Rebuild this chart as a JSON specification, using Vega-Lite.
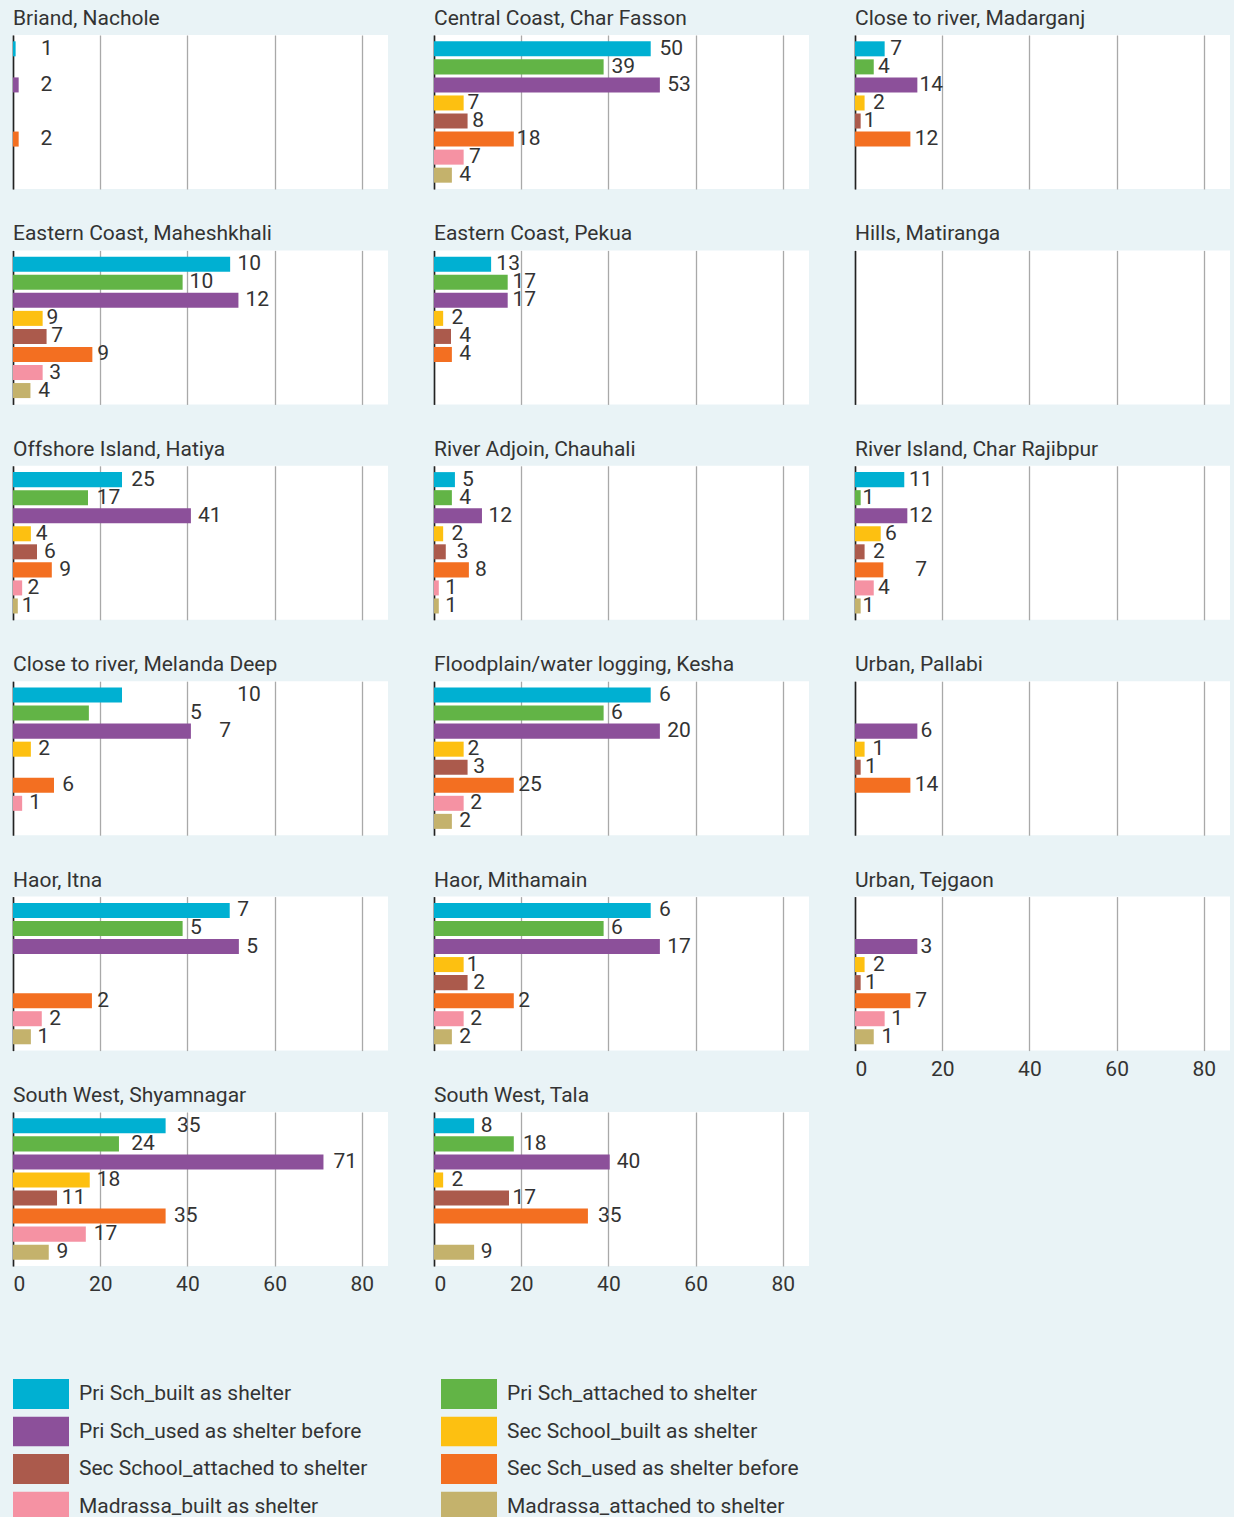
{
  "$schema": "https://vega.github.io/schema/vega-lite/v6.json",
  "background": "#e9f3f6",
  "padding": {"left": 13, "top": 8, "right": 4, "bottom": 0},
  "data": {"values": [
    {"region": "Briand, Nachole", "cat": "Pri Sch_built as shelter", "v": 0.6, "t": "1", "p": 6.4},
    {"region": "Briand, Nachole", "cat": "Pri Sch_used as shelter before", "v": 1.3, "t": "2", "p": 6.3},
    {"region": "Briand, Nachole", "cat": "Sec Sch_used as shelter before", "v": 1.3, "t": "2", "p": 6.3},

    {"region": "Central Coast, Char Fasson", "cat": "Pri Sch_built as shelter", "v": 49.7, "t": "50", "p": 51.7},
    {"region": "Central Coast, Char Fasson", "cat": "Pri Sch_attached to shelter", "v": 38.9, "t": "39", "p": 40.7},
    {"region": "Central Coast, Char Fasson", "cat": "Pri Sch_used as shelter before", "v": 51.8, "t": "53", "p": 53.5},
    {"region": "Central Coast, Char Fasson", "cat": "Sec School_built as shelter", "v": 6.8, "t": "7", "p": 7.7},
    {"region": "Central Coast, Char Fasson", "cat": "Sec School_attached to shelter", "v": 7.7, "t": "8", "p": 8.8},
    {"region": "Central Coast, Char Fasson", "cat": "Sec Sch_used as shelter before", "v": 18.3, "t": "18", "p": 19.0},
    {"region": "Central Coast, Char Fasson", "cat": "Madrassa_built as shelter", "v": 6.8, "t": "7", "p": 8.0},
    {"region": "Central Coast, Char Fasson", "cat": "Madrassa_attached to shelter", "v": 4.1, "t": "4", "p": 5.8},

    {"region": "Close to river, Madarganj", "cat": "Pri Sch_built as shelter", "v": 6.8, "t": "7", "p": 8.1},
    {"region": "Close to river, Madarganj", "cat": "Pri Sch_attached to shelter", "v": 4.3, "t": "4", "p": 5.3},
    {"region": "Close to river, Madarganj", "cat": "Pri Sch_used as shelter before", "v": 14.3, "t": "14", "p": 14.8},
    {"region": "Close to river, Madarganj", "cat": "Sec School_built as shelter", "v": 2.2, "t": "2", "p": 4.1},
    {"region": "Close to river, Madarganj", "cat": "Sec School_attached to shelter", "v": 1.3, "t": "1", "p": 2.0},
    {"region": "Close to river, Madarganj", "cat": "Sec Sch_used as shelter before", "v": 12.7, "t": "12", "p": 13.7},

    {"region": "Eastern Coast, Maheshkhali", "cat": "Pri Sch_built as shelter", "v": 49.8, "t": "10", "p": 51.5},
    {"region": "Eastern Coast, Maheshkhali", "cat": "Pri Sch_attached to shelter", "v": 38.9, "t": "10", "p": 40.5},
    {"region": "Eastern Coast, Maheshkhali", "cat": "Pri Sch_used as shelter before", "v": 51.7, "t": "12", "p": 53.3},
    {"region": "Eastern Coast, Maheshkhali", "cat": "Sec School_built as shelter", "v": 6.8, "t": "9", "p": 7.7},
    {"region": "Eastern Coast, Maheshkhali", "cat": "Sec School_attached to shelter", "v": 7.7, "t": "7", "p": 8.8},
    {"region": "Eastern Coast, Maheshkhali", "cat": "Sec Sch_used as shelter before", "v": 18.2, "t": "9", "p": 19.3},
    {"region": "Eastern Coast, Maheshkhali", "cat": "Madrassa_built as shelter", "v": 6.8, "t": "3", "p": 8.3},
    {"region": "Eastern Coast, Maheshkhali", "cat": "Madrassa_attached to shelter", "v": 4.0, "t": "4", "p": 5.8},

    {"region": "Eastern Coast, Pekua", "cat": "Pri Sch_built as shelter", "v": 13.1, "t": "13", "p": 14.3},
    {"region": "Eastern Coast, Pekua", "cat": "Pri Sch_attached to shelter", "v": 16.9, "t": "17", "p": 18.0},
    {"region": "Eastern Coast, Pekua", "cat": "Pri Sch_used as shelter before", "v": 16.9, "t": "17", "p": 18.0},
    {"region": "Eastern Coast, Pekua", "cat": "Sec School_built as shelter", "v": 2.1, "t": "2", "p": 4.0},
    {"region": "Eastern Coast, Pekua", "cat": "Sec School_attached to shelter", "v": 3.9, "t": "4", "p": 5.8},
    {"region": "Eastern Coast, Pekua", "cat": "Sec Sch_used as shelter before", "v": 4.1, "t": "4", "p": 5.8},

    {"region": "Hills, Matiranga", "cat": "Pri Sch_built as shelter", "v": 0, "t": "", "p": 0},

    {"region": "Offshore Island, Hatiya", "cat": "Pri Sch_built as shelter", "v": 25.0, "t": "25", "p": 27.1},
    {"region": "Offshore Island, Hatiya", "cat": "Pri Sch_attached to shelter", "v": 17.2, "t": "17", "p": 19.2},
    {"region": "Offshore Island, Hatiya", "cat": "Pri Sch_used as shelter before", "v": 40.8, "t": "41", "p": 42.4},
    {"region": "Offshore Island, Hatiya", "cat": "Sec School_built as shelter", "v": 4.1, "t": "4", "p": 5.2},
    {"region": "Offshore Island, Hatiya", "cat": "Sec School_attached to shelter", "v": 5.5, "t": "6", "p": 7.1},
    {"region": "Offshore Island, Hatiya", "cat": "Sec Sch_used as shelter before", "v": 8.9, "t": "9", "p": 10.6},
    {"region": "Offshore Island, Hatiya", "cat": "Madrassa_built as shelter", "v": 2.1, "t": "2", "p": 3.3},
    {"region": "Offshore Island, Hatiya", "cat": "Madrassa_attached to shelter", "v": 1.1, "t": "1", "p": 2.0},

    {"region": "River Adjoin, Chauhali", "cat": "Pri Sch_built as shelter", "v": 4.8, "t": "5", "p": 6.4},
    {"region": "River Adjoin, Chauhali", "cat": "Pri Sch_attached to shelter", "v": 4.1, "t": "4", "p": 5.8},
    {"region": "River Adjoin, Chauhali", "cat": "Pri Sch_used as shelter before", "v": 11.0, "t": "12", "p": 12.5},
    {"region": "River Adjoin, Chauhali", "cat": "Sec School_built as shelter", "v": 2.1, "t": "2", "p": 4.0},
    {"region": "River Adjoin, Chauhali", "cat": "Sec School_attached to shelter", "v": 2.7, "t": "3", "p": 5.2},
    {"region": "River Adjoin, Chauhali", "cat": "Sec Sch_used as shelter before", "v": 8.0, "t": "8", "p": 9.4},
    {"region": "River Adjoin, Chauhali", "cat": "Madrassa_built as shelter", "v": 1.1, "t": "1", "p": 2.6},
    {"region": "River Adjoin, Chauhali", "cat": "Madrassa_attached to shelter", "v": 1.1, "t": "1", "p": 2.6},

    {"region": "River Island, Char Rajibpur", "cat": "Pri Sch_built as shelter", "v": 11.3, "t": "11", "p": 12.4},
    {"region": "River Island, Char Rajibpur", "cat": "Pri Sch_attached to shelter", "v": 1.3, "t": "1", "p": 1.7},
    {"region": "River Island, Char Rajibpur", "cat": "Pri Sch_used as shelter before", "v": 12.0, "t": "12", "p": 12.4},
    {"region": "River Island, Char Rajibpur", "cat": "Sec School_built as shelter", "v": 5.9, "t": "6", "p": 6.9},
    {"region": "River Island, Char Rajibpur", "cat": "Sec School_attached to shelter", "v": 2.2, "t": "2", "p": 4.1},
    {"region": "River Island, Char Rajibpur", "cat": "Sec Sch_used as shelter before", "v": 6.5, "t": "7", "p": 13.8},
    {"region": "River Island, Char Rajibpur", "cat": "Madrassa_built as shelter", "v": 4.3, "t": "4", "p": 5.3},
    {"region": "River Island, Char Rajibpur", "cat": "Madrassa_attached to shelter", "v": 1.3, "t": "1", "p": 1.7},

    {"region": "Close to river, Melanda Deep", "cat": "Pri Sch_built as shelter", "v": 25.0, "t": "10", "p": 51.4},
    {"region": "Close to river, Melanda Deep", "cat": "Pri Sch_attached to shelter", "v": 17.4, "t": "5", "p": 40.6},
    {"region": "Close to river, Melanda Deep", "cat": "Pri Sch_used as shelter before", "v": 40.8, "t": "7", "p": 47.3},
    {"region": "Close to river, Melanda Deep", "cat": "Sec School_built as shelter", "v": 4.1, "t": "2", "p": 5.8},
    {"region": "Close to river, Melanda Deep", "cat": "Sec Sch_used as shelter before", "v": 9.4, "t": "6", "p": 11.3},
    {"region": "Close to river, Melanda Deep", "cat": "Madrassa_built as shelter", "v": 2.1, "t": "1", "p": 3.7},

    {"region": "Floodplain/water logging, Kesha", "cat": "Pri Sch_built as shelter", "v": 49.7, "t": "6", "p": 51.6},
    {"region": "Floodplain/water logging, Kesha", "cat": "Pri Sch_attached to shelter", "v": 38.9, "t": "6", "p": 40.6},
    {"region": "Floodplain/water logging, Kesha", "cat": "Pri Sch_used as shelter before", "v": 51.8, "t": "20", "p": 53.5},
    {"region": "Floodplain/water logging, Kesha", "cat": "Sec School_built as shelter", "v": 6.8, "t": "2", "p": 7.7},
    {"region": "Floodplain/water logging, Kesha", "cat": "Sec School_attached to shelter", "v": 7.7, "t": "3", "p": 9.0},
    {"region": "Floodplain/water logging, Kesha", "cat": "Sec Sch_used as shelter before", "v": 18.3, "t": "25", "p": 19.3},
    {"region": "Floodplain/water logging, Kesha", "cat": "Madrassa_built as shelter", "v": 6.8, "t": "2", "p": 8.3},
    {"region": "Floodplain/water logging, Kesha", "cat": "Madrassa_attached to shelter", "v": 4.1, "t": "2", "p": 5.8},

    {"region": "Urban, Pallabi", "cat": "Pri Sch_used as shelter before", "v": 14.3, "t": "6", "p": 15.0},
    {"region": "Urban, Pallabi", "cat": "Sec School_built as shelter", "v": 2.2, "t": "1", "p": 4.0},
    {"region": "Urban, Pallabi", "cat": "Sec School_attached to shelter", "v": 1.3, "t": "1", "p": 2.3},
    {"region": "Urban, Pallabi", "cat": "Sec Sch_used as shelter before", "v": 12.7, "t": "14", "p": 13.7},

    {"region": "Haor, Itna", "cat": "Pri Sch_built as shelter", "v": 49.7, "t": "7", "p": 51.4},
    {"region": "Haor, Itna", "cat": "Pri Sch_attached to shelter", "v": 38.9, "t": "5", "p": 40.6},
    {"region": "Haor, Itna", "cat": "Pri Sch_used as shelter before", "v": 51.8, "t": "5", "p": 53.5},
    {"region": "Haor, Itna", "cat": "Sec Sch_used as shelter before", "v": 18.1, "t": "2", "p": 19.3},
    {"region": "Haor, Itna", "cat": "Madrassa_built as shelter", "v": 6.6, "t": "2", "p": 8.3},
    {"region": "Haor, Itna", "cat": "Madrassa_attached to shelter", "v": 4.1, "t": "1", "p": 5.6},

    {"region": "Haor, Mithamain", "cat": "Pri Sch_built as shelter", "v": 49.7, "t": "6", "p": 51.6},
    {"region": "Haor, Mithamain", "cat": "Pri Sch_attached to shelter", "v": 38.9, "t": "6", "p": 40.6},
    {"region": "Haor, Mithamain", "cat": "Pri Sch_used as shelter before", "v": 51.8, "t": "17", "p": 53.5},
    {"region": "Haor, Mithamain", "cat": "Sec School_built as shelter", "v": 6.8, "t": "1", "p": 7.5},
    {"region": "Haor, Mithamain", "cat": "Sec School_attached to shelter", "v": 7.7, "t": "2", "p": 9.0},
    {"region": "Haor, Mithamain", "cat": "Sec Sch_used as shelter before", "v": 18.3, "t": "2", "p": 19.3},
    {"region": "Haor, Mithamain", "cat": "Madrassa_built as shelter", "v": 6.8, "t": "2", "p": 8.3},
    {"region": "Haor, Mithamain", "cat": "Madrassa_attached to shelter", "v": 4.1, "t": "2", "p": 5.8},

    {"region": "Urban, Tejgaon", "cat": "Pri Sch_used as shelter before", "v": 14.3, "t": "3", "p": 15.0},
    {"region": "Urban, Tejgaon", "cat": "Sec School_built as shelter", "v": 2.2, "t": "2", "p": 4.1},
    {"region": "Urban, Tejgaon", "cat": "Sec School_attached to shelter", "v": 1.3, "t": "1", "p": 2.3},
    {"region": "Urban, Tejgaon", "cat": "Sec Sch_used as shelter before", "v": 12.7, "t": "7", "p": 13.8},
    {"region": "Urban, Tejgaon", "cat": "Madrassa_built as shelter", "v": 6.8, "t": "1", "p": 8.3},
    {"region": "Urban, Tejgaon", "cat": "Madrassa_attached to shelter", "v": 4.3, "t": "1", "p": 6.1},

    {"region": "South West, Shyamnagar", "cat": "Pri Sch_built as shelter", "v": 35.0, "t": "35", "p": 37.6},
    {"region": "South West, Shyamnagar", "cat": "Pri Sch_attached to shelter", "v": 24.3, "t": "24", "p": 27.1},
    {"region": "South West, Shyamnagar", "cat": "Pri Sch_used as shelter before", "v": 71.2, "t": "71", "p": 73.5},
    {"region": "South West, Shyamnagar", "cat": "Sec School_built as shelter", "v": 17.6, "t": "18", "p": 19.2},
    {"region": "South West, Shyamnagar", "cat": "Sec School_attached to shelter", "v": 10.1, "t": "11", "p": 11.2},
    {"region": "South West, Shyamnagar", "cat": "Sec Sch_used as shelter before", "v": 35.0, "t": "35", "p": 36.9},
    {"region": "South West, Shyamnagar", "cat": "Madrassa_built as shelter", "v": 16.7, "t": "17", "p": 18.5},
    {"region": "South West, Shyamnagar", "cat": "Madrassa_attached to shelter", "v": 8.2, "t": "9", "p": 10.0},

    {"region": "South West, Tala", "cat": "Pri Sch_built as shelter", "v": 9.2, "t": "8", "p": 10.7},
    {"region": "South West, Tala", "cat": "Pri Sch_attached to shelter", "v": 18.3, "t": "18", "p": 20.4},
    {"region": "South West, Tala", "cat": "Pri Sch_used as shelter before", "v": 40.3, "t": "40", "p": 41.9},
    {"region": "South West, Tala", "cat": "Sec School_built as shelter", "v": 2.1, "t": "2", "p": 4.0},
    {"region": "South West, Tala", "cat": "Sec School_attached to shelter", "v": 17.2, "t": "17", "p": 18.0},
    {"region": "South West, Tala", "cat": "Sec Sch_used as shelter before", "v": 35.3, "t": "35", "p": 37.6},
    {"region": "South West, Tala", "cat": "Madrassa_attached to shelter", "v": 9.2, "t": "9", "p": 10.7}
  ]},
  "hconcat": [
    {
      "transform": [{"filter": {"field": "region", "oneOf": ["Briand, Nachole", "Eastern Coast, Maheshkhali", "Offshore Island, Hatiya", "Close to river, Melanda Deep", "Haor, Itna", "South West, Shyamnagar"]}}],
      "facet": {"field": "region", "type": "nominal", "sort": ["Briand, Nachole", "Eastern Coast, Maheshkhali", "Offshore Island, Hatiya", "Close to river, Melanda Deep", "Haor, Itna", "South West, Shyamnagar"], "header": {"title": null}},
      "columns": 1,
      "spacing": {"row": 34.4},
      "resolve": {"axis": {"y": "independent"}},
      "spec": {
        "width": 375,
        "height": 154,
        "layer": [
          {
            "mark": {"type": "bar"},
            "encoding": {
              "x": {"field": "v", "type": "quantitative", "scale": {"domain": [0, 86], "nice": false}, "axis": {"title": null, "values": [0, 20, 40, 60, 80]}},
              "y": {"field": "cat", "type": "nominal", "scale": {"domain": ["Pri Sch_built as shelter", "Pri Sch_attached to shelter", "Pri Sch_used as shelter before", "Sec School_built as shelter", "Sec School_attached to shelter", "Sec Sch_used as shelter before", "Madrassa_built as shelter", "Madrassa_attached to shelter"], "paddingInner": 0.167, "paddingOuter": 0.35}, "axis": {"title": null}},
              "color": {"field": "cat", "type": "nominal", "scale": {"domain": ["Pri Sch_built as shelter", "Pri Sch_attached to shelter", "Pri Sch_used as shelter before", "Sec School_built as shelter", "Sec School_attached to shelter", "Sec Sch_used as shelter before", "Madrassa_built as shelter", "Madrassa_attached to shelter"], "range": ["#00b0d2", "#62b446", "#8c509a", "#fdc011", "#ab5a4c", "#f36f21", "#f592a3", "#c4b26c"]}, "legend": {"title": null}}
            }
          },
          {
            "mark": {"type": "text", "align": "left", "baseline": "middle", "fontSize": 21, "font": "Roboto", "color": "#333333"},
            "encoding": {
              "x": {"field": "p", "type": "quantitative"},
              "y": {"field": "cat", "type": "nominal"},
              "text": {"field": "t", "type": "nominal"}
            }
          }
        ]
      }
    },
    {
      "transform": [{"filter": {"field": "region", "oneOf": ["Central Coast, Char Fasson", "Eastern Coast, Pekua", "River Adjoin, Chauhali", "Floodplain/water logging, Kesha", "Haor, Mithamain", "South West, Tala"]}}],
      "facet": {"field": "region", "type": "nominal", "sort": ["Central Coast, Char Fasson", "Eastern Coast, Pekua", "River Adjoin, Chauhali", "Floodplain/water logging, Kesha", "Haor, Mithamain", "South West, Tala"], "header": {"title": null}},
      "columns": 1,
      "spacing": {"row": 34.4},
      "resolve": {"axis": {"y": "independent"}},
      "spec": {
        "width": 375,
        "height": 154,
        "layer": [
          {
            "mark": {"type": "bar"},
            "encoding": {
              "x": {"field": "v", "type": "quantitative", "scale": {"domain": [0, 86], "nice": false}, "axis": {"title": null, "values": [0, 20, 40, 60, 80]}},
              "y": {"field": "cat", "type": "nominal", "scale": {"domain": ["Pri Sch_built as shelter", "Pri Sch_attached to shelter", "Pri Sch_used as shelter before", "Sec School_built as shelter", "Sec School_attached to shelter", "Sec Sch_used as shelter before", "Madrassa_built as shelter", "Madrassa_attached to shelter"], "paddingInner": 0.167, "paddingOuter": 0.35}, "axis": {"title": null}},
              "color": {"field": "cat", "type": "nominal", "scale": {"domain": ["Pri Sch_built as shelter", "Pri Sch_attached to shelter", "Pri Sch_used as shelter before", "Sec School_built as shelter", "Sec School_attached to shelter", "Sec Sch_used as shelter before", "Madrassa_built as shelter", "Madrassa_attached to shelter"], "range": ["#00b0d2", "#62b446", "#8c509a", "#fdc011", "#ab5a4c", "#f36f21", "#f592a3", "#c4b26c"]}, "legend": {"title": null}}
            }
          },
          {
            "mark": {"type": "text", "align": "left", "baseline": "middle", "fontSize": 21, "font": "Roboto", "color": "#333333"},
            "encoding": {
              "x": {"field": "p", "type": "quantitative"},
              "y": {"field": "cat", "type": "nominal"},
              "text": {"field": "t", "type": "nominal"}
            }
          }
        ]
      }
    },
    {
      "transform": [{"filter": {"field": "region", "oneOf": ["Close to river, Madarganj", "Hills, Matiranga", "River Island, Char Rajibpur", "Urban, Pallabi", "Urban, Tejgaon"]}}],
      "facet": {"field": "region", "type": "nominal", "sort": ["Close to river, Madarganj", "Hills, Matiranga", "River Island, Char Rajibpur", "Urban, Pallabi", "Urban, Tejgaon"], "header": {"title": null}},
      "columns": 1,
      "spacing": {"row": 34.4},
      "resolve": {"axis": {"y": "independent"}},
      "spec": {
        "width": 375,
        "height": 154,
        "layer": [
          {
            "mark": {"type": "bar"},
            "encoding": {
              "x": {"field": "v", "type": "quantitative", "scale": {"domain": [0, 86], "nice": false}, "axis": {"title": null, "values": [0, 20, 40, 60, 80]}},
              "y": {"field": "cat", "type": "nominal", "scale": {"domain": ["Pri Sch_built as shelter", "Pri Sch_attached to shelter", "Pri Sch_used as shelter before", "Sec School_built as shelter", "Sec School_attached to shelter", "Sec Sch_used as shelter before", "Madrassa_built as shelter", "Madrassa_attached to shelter"], "paddingInner": 0.167, "paddingOuter": 0.35}, "axis": {"title": null}},
              "color": {"field": "cat", "type": "nominal", "scale": {"domain": ["Pri Sch_built as shelter", "Pri Sch_attached to shelter", "Pri Sch_used as shelter before", "Sec School_built as shelter", "Sec School_attached to shelter", "Sec Sch_used as shelter before", "Madrassa_built as shelter", "Madrassa_attached to shelter"], "range": ["#00b0d2", "#62b446", "#8c509a", "#fdc011", "#ab5a4c", "#f36f21", "#f592a3", "#c4b26c"]}, "legend": {"title": null}}
            }
          },
          {
            "mark": {"type": "text", "align": "left", "baseline": "middle", "fontSize": 21, "font": "Roboto", "color": "#333333"},
            "encoding": {
              "x": {"field": "p", "type": "quantitative"},
              "y": {"field": "cat", "type": "nominal"},
              "text": {"field": "t", "type": "nominal"}
            }
          }
        ]
      }
    }
  ],
  "spacing": 46,
  "resolve": {"scale": {"color": "shared"}, "legend": {"color": "shared"}},
  "config": {
    "view": {"fill": "white", "stroke": null},
    "font": "Roboto",
    "header": {
      "labelFontSize": 21,
      "labelFont": "Roboto",
      "labelColor": "#333333",
      "labelAnchor": "start",
      "labelAlign": "left",
      "labelPadding": 6
    },
    "axisX": {
      "ticks": false,
      "domain": false,
      "grid": true,
      "gridColor": "#a9a9a9",
      "gridWidth": 1.3,
      "labelFontSize": 21,
      "labelFont": "Roboto",
      "labelColor": "#333333",
      "labelPadding": 7
    },
    "axisY": {
      "labels": false,
      "ticks": false,
      "domain": true,
      "domainColor": "#222222",
      "domainWidth": 1.6,
      "grid": false,
      "zindex": 1
    },
    "legend": {
      "orient": "bottom",
      "columns": 2,
      "symbolType": "M-1,-0.54H1V0.54H-1Z",
      "symbolSize": 3136,
      "symbolStrokeWidth": 0,
      "symbolOpacity": 1,
      "clipHeight": 30,
      "labelFontSize": 21,
      "labelFont": "Roboto",
      "labelColor": "#333333",
      "labelOffset": 10,
      "labelLimit": 400,
      "rowPadding": 7.5,
      "columnPadding": 73,
      "offset": 85
    }
  }
}
